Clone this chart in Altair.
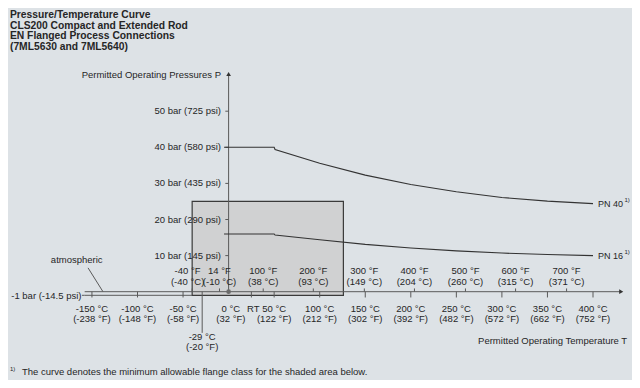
import altair as alt
import pandas as pd

# ---------------- data ----------------
TITLE_LINES = [
    "Pressure/Temperature Curve",
    "CLS200 Compact and Extended Rod",
    "EN Flanged Process Connections",
    "(7ML5630 and 7ML5640)",
]
Y_AXIS_TITLE = "Permitted Operating Pressures P"
X_AXIS_TITLE = "Permitted Operating Temperature T"
FOOTNOTE = "The curve denotes the minimum allowable flange class for the shaded area below."
FOOTNOTE_MARK = "1)"

Y_TICKS = [10, 20, 30, 40, 50]
Y_LABELS = ["10 bar (145 psi)", "20 bar (290 psi)", "30 bar (435 psi)",
            "40 bar (580 psi)", "50 bar (725 psi)"]
VACUUM_P = -1
VACUUM_LABEL = "-1 bar (-14.5 psi)"
ATM_LABEL = "atmospheric"

C_TICKS = [-150, -100, -50, 0, 50, 100, 150, 200, 250, 300, 350, 400]
C_LABELS = ["-150 °C", "-100 °C", "-50 °C", "0 °C", "50 °C", "100 °C", "150 °C",
            "200 °C", "250 °C", "300 °C", "350 °C", "400 °C"]
C_LABELS_F = ["(-238 °F)", "(-148 °F)", "(-58 °F)", "(32 °F)", "(122 °F)", "(212 °F)",
              "(302 °F)", "(392 °F)", "(482 °F)", "(572 °F)", "(662 °F)", "(752 °F)"]

F_TICKS = [-40, -10, 38, 93, 149, 204, 260, 315, 371]
F_LABELS = ["-40 °F", "14 °F", "100 °F", "200 °F", "300 °F", "400 °F", "500 °F",
            "600 °F", "700 °F"]
F_LABELS_C = ["(-40 °C)", "(-10 °C)", "(38 °C)", "(93 °C)", "(149 °C)", "(204 °C)",
              "(260 °C)", "(315 °C)", "(371 °C)"]

RT_TEMP = 25
RT_LABEL = "RT"
MIN_TEMP = -29
MIN_TEMP_LABELS = ["-29 °C", "(-20 °F)"]

PN40_T = [-5, 50, 51, 100, 150, 200, 250, 300, 350, 400]
PN40_P = [40, 40, 39.4, 35.6, 32.3, 29.7, 27.7, 26.1, 25.1, 24.4]
PN16_T = [-5, 50, 51, 100, 150, 200, 250, 300, 350, 400]
PN16_P = [16, 16, 15.7, 14.4, 13.1, 12.1, 11.3, 10.7, 10.3, 10.0]
SERIES = ["PN 40", "PN 16"]

SHADED_T = [-40, 126]
SHADED_P = [-1, 25]

# ---------------- layout / style ----------------
W, H = 624, 372
PX_PER_C = 0.911
PX_PER_BAR = 3.61
ORIGIN_X = 228.6 - 8     # px of 0 °C inside plot
ORIGIN_Y = 291.7 - 8     # px of 0 bar inside plot
XMIN = -ORIGIN_X / PX_PER_C
XMAX = XMIN + W / PX_PER_C
YMAX = ORIGIN_Y / PX_PER_BAR
YMIN = YMAX - H / PX_PER_BAR

BG = "#dde2e6"
TXT = "#262626"
AXC = "#5a5a5a"
LINEC = "#333333"
FONT = "Liberation Sans"
FS = 9.5

X_START = -158
X_END = 431
Y_TOP = 60.3
LABEL_LEFT_X = -8.3
TITLE_X = -240
TITLE_Y0 = 76.6
TITLE_DY = 2.95
BELOW_Y1, BELOW_Y2 = -4.8, -7.65
ABOVE_Y1, ABOVE_Y2 = 5.73, 2.6
F_NUDGE = {-40: -5}
C_NUDGE = {0: 2.5}

xs = alt.Scale(domain=[XMIN, XMAX], nice=False, zero=False)
ys = alt.Scale(domain=[YMIN, YMAX], nice=False, zero=False)
X = lambda f="x": alt.X(f"{f}:Q", scale=xs, axis=None)
Y = lambda f="y": alt.Y(f"{f}:Q", scale=ys, axis=None)


def text_layer(df, align="center", size=FS, weight="normal", color=TXT, dy=0):
    return alt.Chart(df).mark_text(
        align=align, baseline="middle", font=FONT, fontSize=size,
        fontWeight=weight, color=color, dy=dy
    ).encode(x=X(), y=Y(), text="t:N")


def seg_layer(df, color=AXC, width=1.0):
    return alt.Chart(df).mark_rule(color=color, strokeWidth=width).encode(
        x=X(), x2="x2:Q", y=Y(), y2="y2:Q")


# shaded area
box = alt.Chart(pd.DataFrame({"x": [SHADED_T[0]], "x2": [SHADED_T[1]],
                              "y": [SHADED_P[0]], "y2": [SHADED_P[1]]})).mark_rect(
    fill="#d0d1d2", stroke="#3a3a3a", strokeWidth=1.2
).encode(x=X(), x2="x2:Q", y=Y(), y2="y2:Q")

# axis lines
axes_df = pd.DataFrame([
    {"x": X_START, "x2": X_END, "y": 0, "y2": 0},
    {"x": X_START, "x2": SHADED_T[0], "y": VACUUM_P, "y2": VACUUM_P},
    {"x": 0, "x2": 0, "y": 0, "y2": Y_TOP},
    {"x": MIN_TEMP, "x2": MIN_TEMP, "y": 0, "y2": -11.4},
    {"x": -154.3, "x2": -137.9, "y": 6.6, "y2": 0},
    {"x": -161, "x2": X_START, "y": VACUUM_P, "y2": VACUUM_P},
])
axes = seg_layer(axes_df)

ticks_rows = []
for t in C_TICKS:
    if t != 0:
        ticks_rows.append({"x": t, "x2": t, "y": 0, "y2": -1.6})
ticks_rows.append({"x": RT_TEMP, "x2": RT_TEMP, "y": 0, "y2": -1.6})
for t in F_TICKS:
    ticks_rows.append({"x": t, "x2": t, "y": 0, "y2": 0.9})
for p in Y_TICKS:
    ticks_rows.append({"x": -3.6, "x2": 0, "y": p, "y2": p})
ticks = seg_layer(pd.DataFrame(ticks_rows))

arrows_up = alt.Chart(pd.DataFrame({"x": [0], "y": [Y_TOP]})).mark_point(
    shape="triangle-up", filled=True, size=22, color=LINEC, opacity=1).encode(x=X(), y=Y())
arrows_r = alt.Chart(pd.DataFrame({"x": [X_END], "y": [0]})).mark_point(
    shape="triangle-right", filled=True, size=22, color=LINEC, opacity=1).encode(x=X(), y=Y())
dot = alt.Chart(pd.DataFrame({"x": [0], "y": [0]})).mark_point(
    shape="circle", filled=True, size=22, color="#6a6a6a", opacity=1).encode(x=X(), y=Y())

# curves
curve_df = pd.concat([
    pd.DataFrame({"x": PN40_T, "y": PN40_P, "s": SERIES[0]}),
    pd.DataFrame({"x": PN16_T, "y": PN16_P, "s": SERIES[1]}),
])
curves = alt.Chart(curve_df).mark_line(color=LINEC, strokeWidth=1.1).encode(
    x=X(), y=Y(), detail="s:N")

# texts
title = text_layer(pd.DataFrame({
    "x": [TITLE_X] * len(TITLE_LINES),
    "y": [TITLE_Y0 - i * TITLE_DY for i in range(len(TITLE_LINES))],
    "t": TITLE_LINES}), align="left", weight="bold", size=10.3)

ylab = text_layer(pd.DataFrame({"x": [LABEL_LEFT_X] * len(Y_TICKS), "y": Y_TICKS,
                                "t": Y_LABELS}), align="right")
ytitle = text_layer(pd.DataFrame({"x": [LABEL_LEFT_X], "y": [60.0], "t": [Y_AXIS_TITLE]}),
                    align="right")
vac = text_layer(pd.DataFrame({"x": [-161.5], "y": [VACUUM_P - 0.1], "t": [VACUUM_LABEL]}),
                 align="right")
atm = text_layer(pd.DataFrame({"x": [-166.7], "y": [8.8], "t": [ATM_LABEL]}))

cx = [t + C_NUDGE.get(t, 0) for t in C_TICKS]
cl1 = text_layer(pd.DataFrame({"x": cx, "y": [BELOW_Y1] * len(cx), "t": C_LABELS}))
cl2 = text_layer(pd.DataFrame({"x": cx, "y": [BELOW_Y2] * len(cx), "t": C_LABELS_F}))
fx = [t + F_NUDGE.get(t, 0) for t in F_TICKS]
fl1 = text_layer(pd.DataFrame({"x": fx, "y": [ABOVE_Y1] * len(fx), "t": F_LABELS}))
fl2 = text_layer(pd.DataFrame({"x": fx, "y": [ABOVE_Y2] * len(fx), "t": F_LABELS_C}))
rt = text_layer(pd.DataFrame({"x": [RT_TEMP + 2], "y": [BELOW_Y1], "t": [RT_LABEL]}))
mint = text_layer(pd.DataFrame({"x": [MIN_TEMP, MIN_TEMP], "y": [-12.5, -15.4],
                                "t": MIN_TEMP_LABELS}))
xtitle = text_layer(pd.DataFrame({"x": [437.5], "y": [-13.7], "t": [X_AXIS_TITLE]}),
                    align="right")

pn = text_layer(pd.DataFrame({"x": [405.5, 405.5], "y": [PN40_P[-1], PN16_P[-1]],
                              "t": SERIES}), align="left", size=9)
pn_sup = text_layer(pd.DataFrame({"x": [434.5, 434.5],
                                  "y": [PN40_P[-1] + 1.1, PN16_P[-1] + 1.1],
                                  "t": [FOOTNOTE_MARK] * 2}), align="left", size=6)
foot_sup = text_layer(pd.DataFrame({"x": [TITLE_X], "y": [-21.5], "t": [FOOTNOTE_MARK]}),
                      align="left", size=6)
foot = text_layer(pd.DataFrame({"x": [-226.8], "y": [-22.2], "t": [FOOTNOTE]}), align="left")

chart = alt.layer(
    box, axes, ticks, curves, arrows_up, arrows_r, dot,
    title, ylab, ytitle, vac, atm, cl1, cl2, fl1, fl2, rt, mint, xtitle,
    pn, pn_sup, foot_sup, foot,
).properties(
    width=W, height=H, background=BG, padding=0,
    autosize=alt.AutoSizeParams(type="none"),
).configure_view(stroke=None)

chart.save("out.html", embed_options={"renderer": "svg", "actions": False})
